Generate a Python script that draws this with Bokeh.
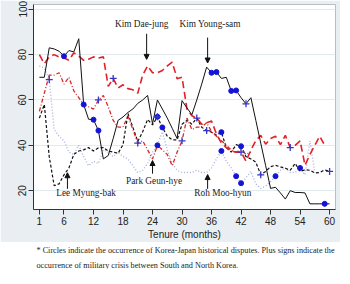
from bokeh.plotting import figure
from bokeh.models import Range1d, Label, Arrow, NormalHead
from bokeh.layouts import column
from bokeh.embed import file_html
from bokeh.resources import INLINE

# ---------------- data (approval ratings by tenure month) ----------------
kim_young_sam = [70, 70, 83, 82.5, 81.5, 79.3, 81.8, 81.2, 87, 58,
                 51.5, 51.3, 46.5, 34, 35.5, 43, 51, 52.5, 54.5, 56,
                 58.5, 60, 62, 49.5, 60, 56, 52, 47.5, 43, 59.7,
                 56.5, 53.5, 60, 67, 74.5, 72, 72.3, 69.5, 70, 64,
                 64.2, 61, 58.3, 61, 51, 41, 31, 21, 21.5, 19,
                 16.3, 20, 19.2, 19.2, 19, 14.2, 14.2, 14.2, 14.2, 14.2]
kim_dae_jung = [80, 76, 79, 80, 79, 78.5, 77.5, 80.8, 79.4, 77.5,
                78, 79, 78.5, 79, 66, 69.5, 65.3, 66.7, 65, 64.5,
                63, 71, 75, 72, 72, 73, 75, 76.7, 69.4, 70,
                56, 53, 52, 49.3, 50, 50.7, 45, 41, 39, 37.5,
                37, 37, 33, 38, 42, 44.4, 40.5, 43, 44, 40.3,
                44.4, 39, 40, 42, 31.2, 36, 40, 44, 40]
roh_moo_hyun = [75, 74, 69, 47, 44, 42, 37, 36, 40, 35,
                31, 33, 32, 38, 37, 35, 37, 35, 34, 31,
                28, 29, 32, 37, 40, 46, 38, 32, 29, 28,
                28, 28, 29, 28, 28, 30, 34, 37.5, 33, 30,
                26.4, 23.3, 25.7, 28.5, 23, 21, 22, 24, 26.4, 29,
                30, 28, 28, 30, 27, 42, 28]
lee_myung_bak = [52, 58, 35, 22.2, 23, 27, 30, 36, 37.5, 38,
                 39, 37.5, 38.9, 39, 37.5, 37, 36.5, 40.3, 54, 48,
                 41.7, 46, 51.4, 49, 52.6, 47.9, 44, 42.4, 42.4, 49.3,
                 51, 49.3, 52, 48, 46.5, 45.8, 44.5, 45.8, 39, 37,
                 40.3, 39.6, 35, 34, 32.6, 27, 28.5, 30.6, 31.2, 30.5,
                 29.9, 29, 32, 28.5, 29.2, 29, 27.8, 28, 29.2, 28.5]
park_geun_hye = [55, 63, 71, 71, 72, 67, 70, 64, 61, 58,
                 57, 56, 60, 62, 57, 51, 48, 48, 53, 47,
                 41, 42, 38, 34, 40, 38, 36, 31, 37, 42,
                 52, 47, 48, 48, 50, 46, 44, 42, 40, 38,
                 37, 38, 36, 37]

# months with Korea-Japan historical disputes (circles) / military crises (plus)
kys_circles = [6, 10, 12, 13, 36, 37, 40, 41, 59]
kys_plus = [43]
kdj_circles = []
kdj_plus = [16, 42, 52]
roh_circles = [38, 41, 42, 49, 54]
roh_plus = [3]
lee_circles = [25, 26, 38, 42]
lee_plus = [25, 33, 35, 46, 60]
park_circles = [25]
park_plus = [13, 21, 30]

x_ticks = [1, 6, 12, 18, 24, 30, 36, 42, 48, 54, 60]
y_ticks = [20, 40, 60, 80, 100]

footnote_1 = ("* Circles indicate the occurrence of Korea-Japan historical disputes. "
              "Plus signs indicate the")
footnote_2 = "occurrence of military crisis between South and North Korea."

# ---------------- figure ----------------
BG = "#e8eef1"
SANS = "Liberation Sans"
SERIF = "Liberation Serif"

p = figure(frame_width=302, frame_height=205,
           x_range=Range1d(-0.2, 61.2), y_range=Range1d(11.7, 102.1),
           output_backend="svg", toolbar_location=None,
           min_border_left=33, min_border_right=5, min_border_top=4,
           min_border_bottom=32)
p.background_fill_color = "white"
p.border_fill_color = BG
p.outline_line_color = "#b4bec4"
p.xgrid.visible = False
p.ygrid.ticker = y_ticks
p.ygrid.grid_line_color = "#e3eaed"

for ax in (p.xaxis[0], p.yaxis[0]):
    ax.axis_line_color = "#333333"
    ax.major_tick_line_color = "#333333"
    ax.minor_tick_line_color = None
    ax.major_tick_in = 0
    ax.major_tick_out = 5
    ax.major_label_text_font = SANS
    ax.major_label_text_font_size = "10px"
    ax.major_label_text_color = "#222222"
    ax.major_label_standoff = 2

p.xaxis.ticker = x_ticks
p.yaxis.ticker = y_ticks
p.yaxis.major_label_orientation = "vertical"
p.xaxis.axis_label = "Tenure (months)"
p.xaxis.axis_label_text_font = SANS
p.xaxis.axis_label_text_font_style = "normal"
p.xaxis.axis_label_text_font_size = "10px"
p.xaxis.axis_label_text_color = "#222222"
p.xaxis.axis_label_standoff = 1


def months_for(vals):
    return list(range(1, len(vals) + 1))


series = [
    (roh_moo_hyun, "#a9b1de", 1.4, "1 2"),
    (lee_myung_bak, "#111111", 1.2, "3 2"),
    (park_geun_hye, "#d42a2a", 1.3, "4 2 1 2"),
    (kim_dae_jung, "#e3202a", 1.6, "7 4"),
    (kim_young_sam, "#111111", 1.0, "solid"),
]
for vals, col, w, dash in series:
    p.line(months_for(vals), vals, line_color=col, line_width=w, line_dash=dash)

markers = [
    (kim_young_sam, kys_circles, kys_plus),
    (kim_dae_jung, kdj_circles, kdj_plus),
    (roh_moo_hyun, roh_circles, roh_plus),
    (lee_myung_bak, lee_circles, lee_plus),
    (park_geun_hye, park_circles, park_plus),
]
cx, cy, px, py = [], [], [], []
for vals, circ, plus in markers:
    for m in circ:
        cx.append(m)
        cy.append(vals[m - 1])
    for m in plus:
        px.append(m)
        py.append(vals[m - 1])

p.scatter(cx, cy, marker="circle", size=5, fill_color="#1414d6", line_color="#1414d6")
p.scatter(px, py, marker="cross", size=7, line_color="#3535c8", line_width=1.3)

# ---------------- annotations ----------------
annotations = [
    ("Kim Dae-jung", 21.8, 93.3, 22.8, 89.2, 77.9),
    ("Kim Young-sam", 35.7, 93.3, 35.2, 87.5, 76.3),
    ("Lee Myung-bak", 10.5, 18.8, 6.7, 20.8, 27.9),
    ("Park Geun-hye", 24.3, 24.3, 24.0, 27.5, 33.3),
    ("Roh Moo-hyun", 38.3, 18.8, 35.2, 20.8, 27.1),
]
for text, tx, ty, ax_, ay0, ay1 in annotations:
    p.add_layout(Label(x=tx, y=ty, text=text, text_align="center",
                       text_baseline="middle", text_font=SERIF,
                       text_font_size="9.3px", text_color="#222222"))
    p.add_layout(Arrow(end=NormalHead(size=5, fill_color="#111111",
                                      line_color="#111111", line_width=1),
                       x_start=ax_, y_start=ay0, x_end=ax_, y_end=ay1,
                       line_color="#111111", line_width=1))

# ---------------- footnote ----------------
f = figure(frame_width=340, frame_height=27, x_range=Range1d(0, 340),
           y_range=Range1d(27, 0), output_backend="svg", toolbar_location=None,
           x_axis_location=None, y_axis_location=None, min_border=0)
f.outline_line_color = None
f.background_fill_color = "white"
f.border_fill_color = "white"
f.xgrid.visible = False
f.ygrid.visible = False
for i, line in enumerate((footnote_1, footnote_2)):
    f.add_layout(Label(x=3, y=8 + i * 14.5, text=line, text_baseline="middle",
                       text_font=SERIF, text_font_size="8.2px",
                       text_color="#222222"))

layout = column(p, f, spacing=0)
open("out.html", "w").write(file_html(layout, INLINE))
